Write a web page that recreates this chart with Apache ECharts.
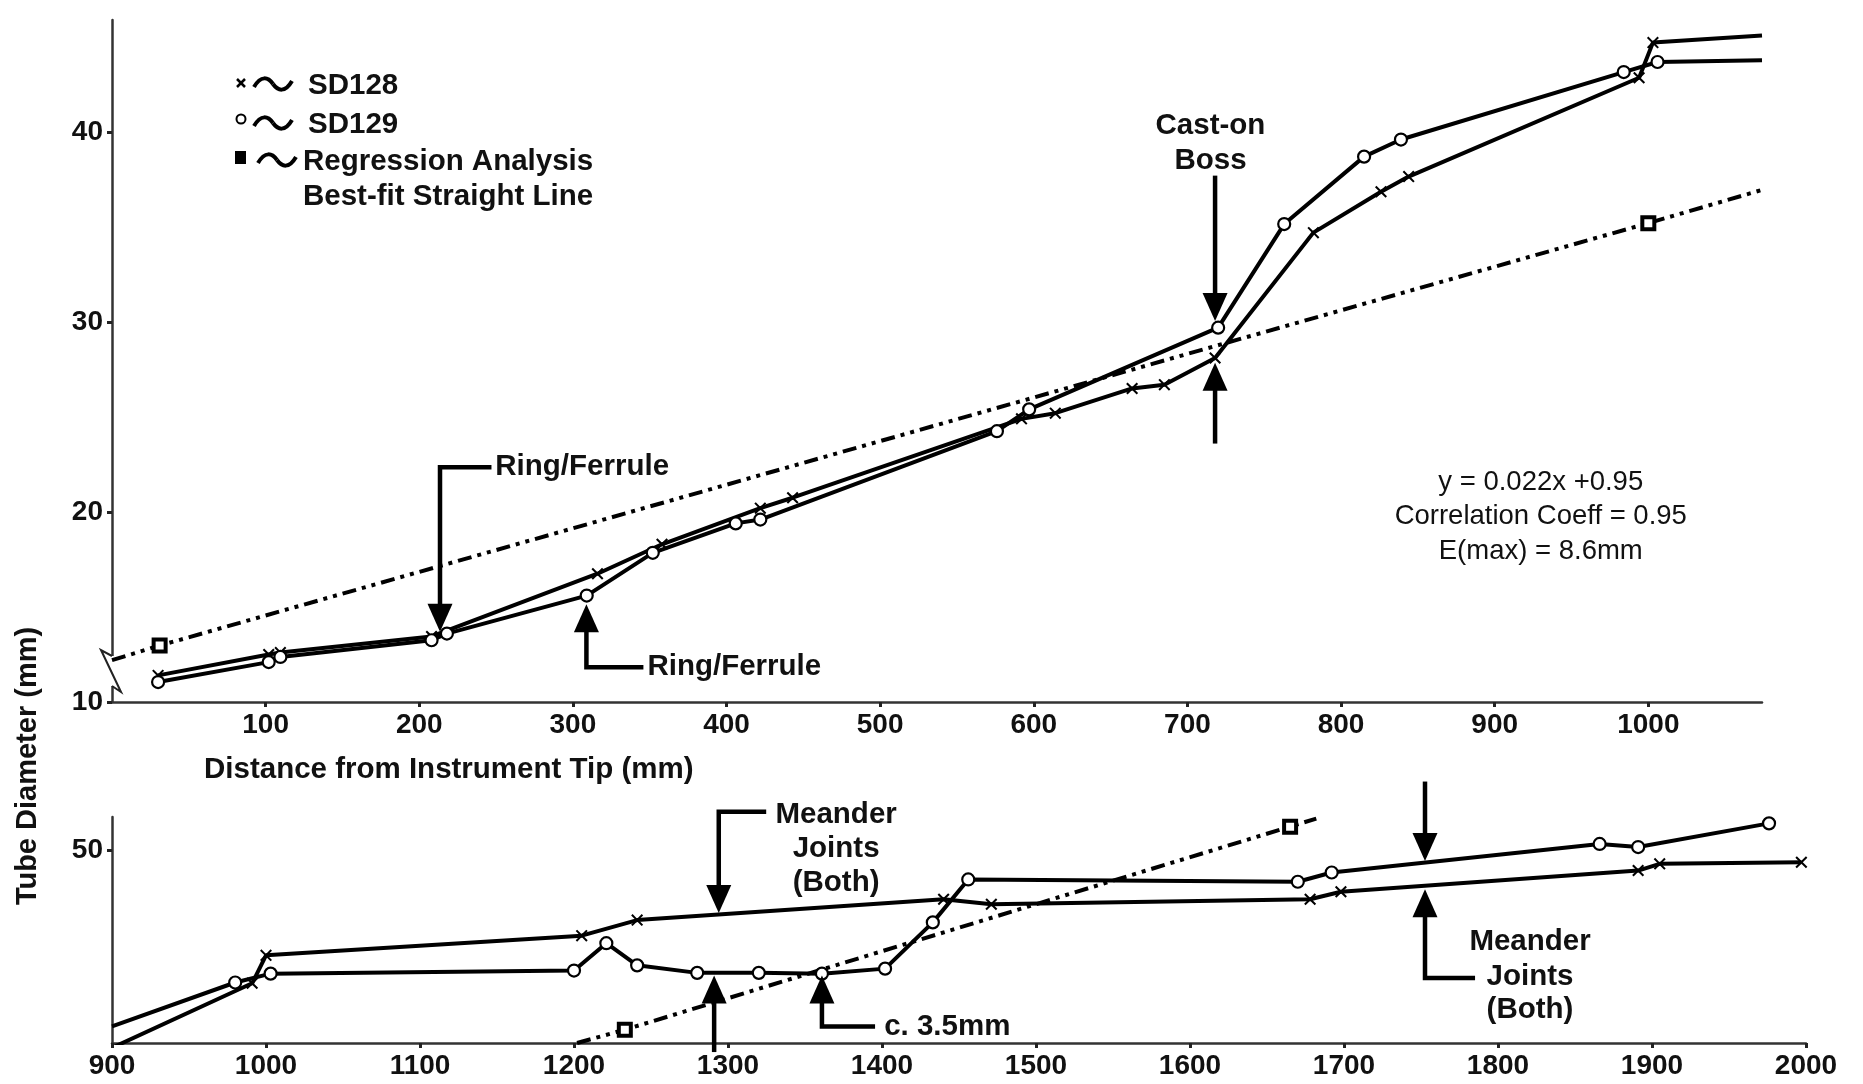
<!DOCTYPE html>
<html><head><meta charset="utf-8">
<script src="https://cdn.jsdelivr.net/npm/echarts@6/dist/echarts.min.js"></script>
<style>html,body{margin:0;padding:0;background:#fff}#c{width:1863px;height:1084px}</style>
</head><body><div id="c"></div>
<script>
// ---------- tick labels ----------
const topXTicks = [100,200,300,400,500,600,700,800,900,1000];
const topYTicks = [10,20,30,40];
const botXTicks = [900,1000,1100,1200,1300,1400,1500,1600,1700,1800,1900,2000];
const botYTicks = [50];

// ---------- top panel (0 - 1074 mm) ----------
const sd128Top = [[30,11.4],[102,12.5],[109.6,12.6],[208,13.45],[316,16.75],[358,18.3],[422,20.2],[443,20.75],[592,24.9],[614,25.2],[664,26.5],[685,26.7],[718,28.1],[782,34.7],[826,36.85],[844,37.65],[994,42.85],[1003,44.7]];
const sd128TopTail = [1074,45.08];
const sd129Top = [[30,11.05],[102,12.1],[109.6,12.37],[208,13.25],[218,13.6],[309,15.6],[352,17.85],[406,19.4],[422,19.6],[576,24.25],[597,25.4],[720,29.7],[763,35.15],[815,38.7],[839,39.6],[984,43.15],[1006,43.68]];
const sd129TopTail = [1074,43.77];
const regTopLead = [0,12.2];
const regTop = [[31,12.97],[1000,35.2]];
const regTopTail = [1074,36.95];

// ---------- bottom panel (900 - 2000 mm) ----------
const sd128BotLead = [900,39.75];
const sd128Bot = [[991,43.1],[1000,44.55],[1205,45.57],[1241,46.38],[1440,47.46],[1471,47.2],[1678,47.46],[1698,47.85],[1891,48.95],[1905,49.3],[1997,49.38]];
const sd129BotLead = [900,40.86];
const sd129Bot = [[980,43.14],[1003,43.6],[1200,43.76],[1221,45.18],[1241,44.03],[1280,43.64],[1320,43.64],[1361,43.6],[1402,43.86],[1433,46.26],[1456,48.49],[1670,48.37],[1692,48.85],[1866,50.33],[1891,50.17],[1976,51.4]];
const regBotLead = [1202,40.0];
const regBot = [[1233,40.69],[1665,51.23]];
const regBotTail = [1682,51.65];

// ---------- annotations (data coordinates) ----------
const arrows = [
  {panel:0, x:213.5, from:22.35, tip:13.7, elbowTo:247},
  {panel:0, x:308.8, from:11.83, tip:15.15, elbowTo:345.9},
  {panel:0, x:718, from:37.7, tip:30.05},
  {panel:0, x:718, from:23.6, tip:27.85},
  {panel:1, x:1294, from:52.0, tip:46.75, elbowTo:1324.8},
  {panel:1, x:1291, from:39.53, tip:43.5},
  {panel:1, x:1361, from:40.85, tip:43.5, elbowTo:1395.5},
  {panel:1, x:1752.6, from:53.57, tip:49.45},
  {panel:1, x:1752.6, from:43.37, tip:47.98, elbowTo:1785.1}
];
const notes = [
  {panel:0, x:249.5, y:22.35, text:'Ring/Ferrule', align:'left', bold:true},
  {panel:0, x:348.5, y:11.83, text:'Ring/Ferrule', align:'left', bold:true},
  {panel:0, x:715, y:40.3, text:'Cast-on', align:'center', bold:true},
  {panel:0, x:715, y:38.5, text:'Boss', align:'center', bold:true},
  {panel:0, x:930, y:21.58, text:'y = 0.022x +0.95', align:'center', bold:false},
  {panel:0, x:930, y:19.74, text:'Correlation Coeff = 0.95', align:'center', bold:false},
  {panel:0, x:930, y:17.9, text:'E(max) = 8.6mm', align:'center', bold:false},
  {panel:1, x:1370.2, y:51.84, text:'Meander', align:'center', bold:true},
  {panel:1, x:1370.2, y:50.07, text:'Joints', align:'center', bold:true},
  {panel:1, x:1370.2, y:48.31, text:'(Both)', align:'center', bold:true},
  {panel:1, x:1401.4, y:40.85, text:'c. 3.5mm', align:'left', bold:true},
  {panel:1, x:1820.8, y:45.26, text:'Meander', align:'center', bold:true},
  {panel:1, x:1820.8, y:43.44, text:'Joints', align:'center', bold:true},
  {panel:1, x:1820.8, y:41.71, text:'(Both)', align:'center', bold:true}
];

const FONT = "'Liberation Sans', Arial, sans-serif";
const XSYM = 'path://M1.2,0 L5,3.8 L8.8,0 L10,1.2 L6.2,5 L10,8.8 L8.8,10 L5,6.2 L1.2,10 L0,8.8 L3.8,5 L0,1.2 Z';

function build(lead, pts, tail){
  const d = [];
  if (lead) d.push({value: lead, symbol: 'none'});
  pts.forEach(p => d.push(p));
  if (tail) d.push({value: tail, symbol: 'none'});
  return d;
}
function sd128Series(idx, data){
  return {type:'line', name:'SD128', xAxisIndex:idx, yAxisIndex:idx, data,
    symbol:XSYM, symbolSize:12, showAllSymbol:true,
    lineStyle:{color:'#000', width:4}, itemStyle:{color:'#000'}, z:3};
}
function sd129Series(idx, data){
  return {type:'line', name:'SD129', xAxisIndex:idx, yAxisIndex:idx, data,
    symbol:'circle', symbolSize:12, showAllSymbol:true,
    lineStyle:{color:'#000', width:4}, itemStyle:{color:'#fff', borderColor:'#000', borderWidth:2.2}, z:4};
}
function regSeries(idx, data){
  return {type:'line', name:'Regression', xAxisIndex:idx, yAxisIndex:idx, data,
    symbol:'rect', symbolSize:12, showAllSymbol:true,
    lineStyle:{color:'#000', width:4, type:[14,6,4,6,4,6]},
    itemStyle:{color:'#fff', borderColor:'#000', borderWidth:4}, z:2};
}
const labelStyle = {color:'#111', fontWeight:'bold', fontSize:28, fontFamily:FONT};
function xAxisCfg(gi, min, max, ticks){
  return {gridIndex:gi, type:'value', min, max, interval:100,
    axisLine:{lineStyle:{color:'#333', width:2.5}},
    axisTick:{length:5, lineStyle:{color:'#222', width:3}, customValues:ticks},
    axisLabel:Object.assign({margin:9, customValues:ticks,
      formatter: v => ticks.indexOf(v) >= 0 ? String(v) : ''}, labelStyle),
    splitLine:{show:false}};
}
function yAxisCfg(gi, min, max, ticks){
  return {gridIndex:gi, type:'value', min, max, interval:10,
    axisLine:{lineStyle:{color:'#333', width:2.5}},
    axisTick:{length:5, lineStyle:{color:'#222', width:3}, customValues:ticks},
    axisLabel:Object.assign({margin:9, customValues:ticks,
      formatter: v => ticks.indexOf(v) >= 0 ? String(v) : ''}, labelStyle),
    splitLine:{show:false}};
}

const chart = echarts.init(document.getElementById('c'), null, {renderer:'canvas'});
chart.setOption({
  animation:false,
  backgroundColor:'#fff',
  grid:[
    {left:112, top:20, width:1650, height:682},
    {left:112, top:817, width:1694, height:226}
  ],
  xAxis:[xAxisCfg(0,0,1074,topXTicks), xAxisCfg(1,900,2000,botXTicks)],
  yAxis:[yAxisCfg(0,10,45.89,topYTicks), yAxisCfg(1,40,51.73,botYTicks)],
  series:[
    regSeries(0, build(regTopLead, regTop, regTopTail)),
    sd128Series(0, build(null, sd128Top, sd128TopTail)),
    sd129Series(0, build(null, sd129Top, sd129TopTail)),
    regSeries(1, build(regBotLead, regBot, regBotTail)),
    sd128Series(1, build(sd128BotLead, sd128Bot, null)),
    sd129Series(1, build(sd129BotLead, sd129Bot, null))
  ]
});

function px(p, v){ return chart.convertToPixel({gridIndex:p}, v); }
function txt(x, y, text, font, align, extra){
  return Object.assign({type:'text', silent:true, z:10, x, y,
    style:{text, fill:'#111', font, align, verticalAlign:'middle', textAlign:align, textVerticalAlign:'middle'}}, extra || {});
}
const els = [];
// arrows
arrows.forEach(a => {
  const tip = px(a.panel, [a.x, a.tip]);
  const st = px(a.panel, [a.x, a.from]);
  const dir = tip[1] > st[1] ? 1 : -1;
  const headH = 28, headW = 25;
  const hb = tip[1] - dir*headH;
  const pts = [];
  if (a.elbowTo != null){ const e = px(a.panel, [a.elbowTo, a.from]); pts.push([e[0], st[1]]); }
  pts.push([tip[0], st[1]]);
  pts.push([tip[0], hb + dir*4]);
  els.push({type:'polyline', silent:true, z:10, shape:{points:pts},
    style:{stroke:'#000', lineWidth:4.5, fill:null, lineJoin:'miter'}});
  els.push({type:'polygon', silent:true, z:10,
    shape:{points:[[tip[0], tip[1]], [tip[0]-headW/2, hb], [tip[0]+headW/2, hb]]},
    style:{fill:'#000'}});
});
// notes
notes.forEach(n => {
  const p = px(n.panel, [n.x, n.y]);
  els.push(txt(p[0], p[1], n.text, n.bold ? 'bold 29.5px '+FONT : '27.5px '+FONT, n.align));
});
// axis titles
const xt = px(0, [60, 10]);
els.push(txt(204, xt[1]+68, 'Distance from Instrument Tip (mm)', 'bold 29.5px '+FONT, 'left'));
els.push(txt(28, 766, 'Tube Diameter (mm)', 'bold 29px '+FONT, 'center', {rotation:Math.PI/2}));
// axis break on top y-axis
const o = px(0, [0, 10]);
els.push({type:'rect', silent:true, z:1, shape:{x:o[0]-5, y:o[1]-46, width:10, height:30}, style:{fill:'#fff'}});
els.push({type:'polyline', silent:true, z:1,
  shape:{points:[[o[0], o[1]-46],[o[0]-11, o[1]-52],[o[0]+9, o[1]-10],[o[0], o[1]-16]]},
  style:{stroke:'#222', lineWidth:2, fill:null}});
// legend
const legendRows = [
  {y:83, sym:'x', lines:['SD128']},
  {y:122, sym:'o', lines:['SD129']},
  {y:159, sym:'s', lines:['Regression Analysis','Best-fit Straight Line']}
];
legendRows.forEach(r => {
  const sx = 241;
  if (r.sym === 'x'){
    els.push({type:'line', silent:true, z:10, shape:{x1:sx-4,y1:r.y-4,x2:sx+4,y2:r.y+4}, style:{stroke:'#000', lineWidth:2.5}});
    els.push({type:'line', silent:true, z:10, shape:{x1:sx+4,y1:r.y-4,x2:sx-4,y2:r.y+4}, style:{stroke:'#000', lineWidth:2.5}});
  } else if (r.sym === 'o'){
    els.push({type:'circle', silent:true, z:10, shape:{cx:sx, cy:r.y-3, r:4.5}, style:{fill:'#fff', stroke:'#000', lineWidth:2}});
  } else {
    els.push({type:'rect', silent:true, z:10, shape:{x:sx-6, y:r.y-8, width:11, height:13}, style:{fill:'#000'}});
  }
  const tx = r.sym === 's' ? 258 : 254;
  const ty = r.y + 1;
  els.push({type:'bezierCurve', silent:true, z:10,
    shape:{x1:tx, y1:ty+3, cpx1:tx+7, cpy1:ty-9, cpx2:tx+14, cpy2:ty-7, x2:tx+19, y2:ty},
    style:{stroke:'#000', lineWidth:4, fill:null}});
  els.push({type:'bezierCurve', silent:true, z:10,
    shape:{x1:tx+19, y1:ty, cpx1:tx+24, cpy1:ty+7, cpx2:tx+31, cpy2:ty+9, x2:tx+38, y2:ty-3},
    style:{stroke:'#000', lineWidth:4, fill:null}});
  r.lines.forEach((t, i) => {
    els.push(txt(r.sym === 's' ? 303 : 308, r.y + 3 + i*35, t, 'bold 29.5px '+FONT, 'left'));
  });
});
chart.setOption({graphic:{elements:els}});
</script>
</body></html>
